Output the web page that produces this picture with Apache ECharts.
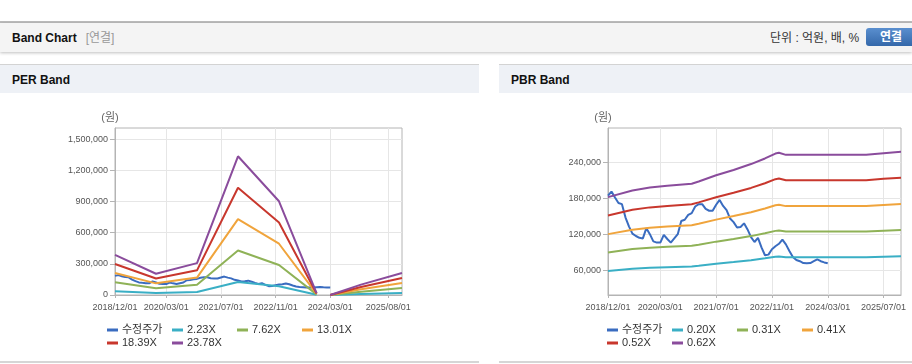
<!DOCTYPE html>
<html><head><meta charset="utf-8">
<script src="https://cdn.jsdelivr.net/npm/echarts@6/dist/echarts.min.js"></script>
<style>
html,body{margin:0;padding:0;background:#fff;}
body{width:912px;height:364px;position:relative;overflow:hidden;font-family:"Liberation Sans","Noto Sans CJK KR",sans-serif;}
.abs{position:absolute;}
#topline{left:0;top:21px;width:912px;height:2px;background:#bcbcbc;}
#hdr{left:0;top:23px;width:912px;height:29px;background:#f4f4f4;box-shadow:0 1px 3px rgba(0,0,0,0.25);}
#hdr .t{position:absolute;left:12px;top:7px;font-size:12px;font-weight:bold;color:#111;line-height:16px;}
#hdr .t span{color:#999;font-weight:normal;margin-left:9px;}
#hdr .u{position:absolute;left:770px;top:7px;font-size:12px;color:#333;line-height:16px;}
#btn{position:absolute;left:866px;top:5px;width:50px;height:18px;border-radius:3px;background:linear-gradient(#5a8fcf,#3468aa);color:#fff;font-weight:bold;font-size:12px;line-height:18px;text-align:center;}
.ph{top:64px;height:28px;background:#eef1f6;border-top:1px solid #d3d3d3;}
.ph div{position:absolute;left:12px;top:7px;font-size:12px;font-weight:bold;color:#111;line-height:16px;}
.bl{top:361px;height:2px;background:#d6d6d6;}
#chart{left:0;top:0;width:912px;height:364px;}
</style>
</head>
<body>
<div id="topline" class="abs"></div>
<div id="hdr" class="abs"><div class="t">Band Chart<span>[연결]</span></div><div class="u">단위 : 억원, 배, %</div><div id="btn">연결</div></div>
<div class="abs ph" style="left:0;width:479px;"><div>PER Band</div></div>
<div class="abs ph" style="left:499px;width:413px;"><div>PBR Band</div></div>
<div class="abs bl" style="left:0;width:479px;"></div>
<div class="abs bl" style="left:499px;width:413px;"></div>
<div id="chart" class="abs"></div>
<script>
// ---- categories (monthly) ----
const months = [
 '2018/12/01',
 '2019/01/01','2019/02/01','2019/03/01','2019/04/01','2019/05/01','2019/06/01','2019/07/01','2019/08/01','2019/09/01','2019/10/01','2019/11/01','2019/12/01',
 '2020/01/01','2020/02/01','2020/03/01','2020/04/01','2020/05/01','2020/06/01','2020/07/01','2020/08/01','2020/09/01','2020/10/01','2020/11/01','2020/12/01',
 '2021/01/01','2021/02/01','2021/03/01','2021/04/01','2021/05/01','2021/06/01','2021/07/01','2021/08/01','2021/09/01','2021/10/01','2021/11/01','2021/12/01',
 '2022/01/01','2022/02/01','2022/03/01','2022/04/01','2022/05/01','2022/06/01','2022/07/01','2022/08/01','2022/09/01','2022/10/01','2022/11/01','2022/12/01',
 '2023/01/01','2023/02/01','2023/03/01','2023/04/01','2023/05/01','2023/06/01','2023/07/01','2023/08/01','2023/09/01','2023/10/01','2023/11/01','2023/12/01',
 '2024/01/01','2024/02/01','2024/03/01','2024/04/01','2024/05/01','2024/06/01','2024/07/01','2024/08/01','2024/09/01','2024/10/01','2024/11/01','2024/12/01',
 '2025/01/01','2025/02/01','2025/03/01','2025/04/01','2025/05/01','2025/06/01','2025/07/01','2025/08/01','2025/09/01','2025/10/01','2025/11/01','2025/12/01'
];
const perXLabels = ['2018/12/01','2020/03/01','2021/07/01','2022/11/01','2024/03/01','2025/08/01'];
const pbrXLabels = ['2018/12/01','2020/03/01','2021/07/01','2022/11/01','2024/03/01','2025/07/01'];
const perYTicks = [0,300000,600000,900000,1200000,1500000];
const pbrYTicks = [60000,120000,180000,240000];

// ---- adjusted share price (수정주가), monthly from 2018/12/01 ----
const price = [184000,191000,181000,172000,170000,148000,133000,121000,117000,114000,
 113000,130000,120000,108000,106000,106000,119000,112000,106000,113000,
 120000,142000,144000,152000,155000,166000,170000,170000,162000,159000,
 159000,169000,177000,167000,160000,146000,140000,131000,132000,138000,
 128000,115000,107000,114000,98000,85000,86000,95000,100000,104000,
 111000,103000,92000,82000,77000,75000,72000,71500,72000,75000,
 78000,75000,73000,71500];

// ---- PER band values (at the dates below; null = break) ----
const perBandDates = ['2018/12/01','2019/12/01','2020/12/01','2021/12/01','2022/12/01','2023/11/01','2023/12/01','2024/03/01','2024/12/01','2025/12/01'];
const per223  = [36100,19200,28800,125100,84500,1800,null,0,9400,19800];
const per762  = [123400,65500,98300,427500,288800,6100,null,0,32000,67800];
const per1301 = [210800,111900,167800,729900,493100,10400,null,0,54600,115800];
const per1839 = [297900,158200,237200,1031700,697000,14700,null,0,77200,163700];
const per2378 = [385200,204500,306800,1334100,901300,19000,null,0,99900,211600];
const perNames = ['2.23X','7.62X','13.01X','18.39X','23.78X'];

// ---- PBR band values ----
const pbrBandDates = ['2018/12/01','2019/07/01','2019/12/01','2020/05/01','2020/12/01','2021/02/01','2021/07/01','2021/12/01','2022/05/01','2022/09/01','2022/12/01','2023/01/01','2023/03/01','2025/02/01','2025/07/01','2025/12/01'];
const pbr020 = [58900,62500,64100,65000,66100,67300,70700,73600,76700,79800,82400,82800,81700,81700,82600,83400];
const pbr031 = [89700,95200,97600,99000,100700,102500,107600,112000,116800,121400,125500,126100,124400,124400,125800,127000];
const pbr041 = [120100,127500,130800,132600,134900,137400,144200,150100,156500,162700,168100,168900,166700,166700,168500,170200];
const pbr052 = [151200,160500,164600,166900,169800,172900,181400,188900,197000,204700,211600,212600,209800,209800,212100,214100];
const pbr062 = [181700,192800,197800,200600,204000,207700,218000,226900,236700,246000,254200,255400,252000,252000,254800,257300];
const pbrNames = ['0.20X','0.31X','0.41X','0.52X','0.62X'];

const priceName = '수정주가';
const FONT = '"Liberation Sans","Noto Sans CJK KR",sans-serif';
const bandColors = ['#3aafc5','#8fb257','#f0a43c','#c8372d','#8a4c9c'];
const priceColor = '#3a6cc0';
const AXIS = '#b4b4b4', GRIDC = '#e6e6e6', LBL = '#555';

const pairs = (dates, vals) => dates.map((d, i) => [d, vals[i]]);
const pricePairs = price.map((v, i) => [months[i], v]);

function xAxis(gi, labels) {
  const set = new Set(labels);
  const f = (i, v) => set.has(months[i]);
  return {
    type: 'category', gridIndex: gi, data: months, boundaryGap: false,
    axisLine: {lineStyle: {color: AXIS}},
    axisTick: {show: true, interval: f, length: 3, lineStyle: {color: AXIS}},
    axisLabel: {interval: f, fontSize: 9, color: LBL, margin: 8, fontFamily: FONT},
    splitLine: {show: true, interval: f, lineStyle: {color: GRIDC}}
  };
}
function yAxis(gi, min, max, ticks) {
  return {
    type: 'value', gridIndex: gi, min: min, max: max,
    name: '(원)', nameLocation: 'end', nameGap: 5,
    nameTextStyle: {fontSize: 11, color: '#666', fontFamily: FONT, align: 'center', padding: [0, 10, 0, 0]},
    axisLine: {show: true, lineStyle: {color: AXIS}},
    axisTick: {show: true, length: 5, customValues: ticks, lineStyle: {color: AXIS}},
    axisLabel: {customValues: ticks, fontSize: 9, color: LBL, margin: 7, fontFamily: FONT,
      formatter: v => Number(v).toLocaleString('en-US')},
    splitLine: {show: true, lineStyle: {color: GRIDC}}
  };
}
function line(name, data, color, xi) {
  return {type: 'line', name: name, data: data, xAxisIndex: xi, yAxisIndex: xi,
    showSymbol: false, symbol: 'none', connectNulls: false, color: color,
    lineStyle: {width: 2, color: color}, emphasis: {disabled: true}, silent: true};
}
function legend(name, left, top) {
  return {data: [name], left: left, top: top, padding: 0, icon: 'rect', itemWidth: 11, itemHeight: 3,
    selectedMode: false, textStyle: {fontSize: 11, color: '#333', fontFamily: FONT, lineHeight: 14, padding: [0,0,0,-1]}};
}

const perVals = [per223, per762, per1301, per1839, per2378];
const pbrVals = [pbr020, pbr031, pbr041, pbr052, pbr062];
const series = [line(priceName, pricePairs, priceColor, 0)];
perVals.forEach((v, k) => series.push(line(perNames[k], pairs(perBandDates, v), bandColors[k], 0)));
series.push(line(priceName, pricePairs, priceColor, 1));
pbrVals.forEach((v, k) => series.push(line(pbrNames[k], pairs(pbrBandDates, v), bandColors[k], 1)));

const perLegNames = [priceName].concat(perNames);
const pbrLegNames = [priceName].concat(pbrNames);
const legX = [0, 65, 130, 195, 0, 65];
const legY = [323, 323, 323, 323, 336, 336];
const legends = [];
perLegNames.forEach((n, i) => legends.push(legend(n, 107 + legX[i], legY[i])));
pbrLegNames.forEach((n, i) => legends.push(legend(n, 607 + legX[i], legY[i])));

const chart = echarts.init(document.getElementById('chart'), null, {renderer: 'canvas'});
chart.setOption({
  animation: false,
  backgroundColor: 'transparent',
  grid: [
    {left: 115, top: 128, width: 287, height: 167, show: true, borderColor: AXIS, borderWidth: 1, containLabel: false},
    {left: 608, top: 128, width: 293, height: 167, show: true, borderColor: AXIS, borderWidth: 1, containLabel: false}
  ],
  xAxis: [xAxis(0, perXLabels), xAxis(1, pbrXLabels)],
  yAxis: [yAxis(0, 0, 1606000, perYTicks), yAxis(1, 18800, 296700, pbrYTicks)],
  legend: legends,
  series: series
});
</script>
</body></html>
